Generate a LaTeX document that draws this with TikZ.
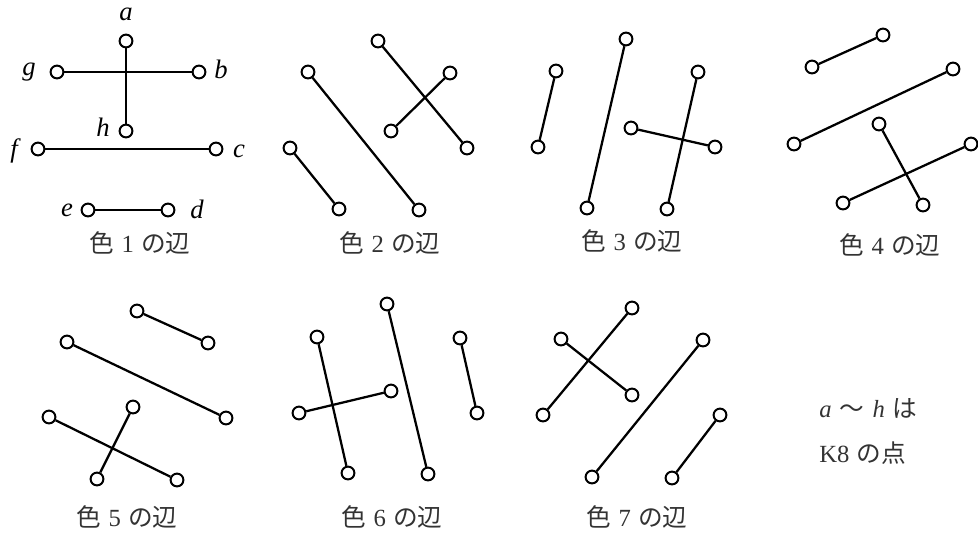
\documentclass[tikz,border=0pt]{standalone}
\usepackage{fontspec}
\newfontfamily\cjk{Noto Sans CJK JP}
\newfontfamily\lserif{Liberation Serif}
\begin{document}
\begin{tikzpicture}[x=0.75pt,y=-0.75pt,
  v/.style={circle,draw,fill=white,inner sep=0pt,minimum size=9.6pt,line width=1.5pt},
  edg/.style={line width=1.7pt},
  lab/.style={font=\fontsize{20}{23}\lserif\itshape,inner sep=0pt},
  captxt/.style={font=\fontsize{18.5}{22}\selectfont,text=black!80,inner sep=0pt}]
\useasboundingbox (0,0) rectangle (978,533);
% ---- panel 1
\node[v] (a) at (126,41) {};
\node[v] (g) at (57,72) {};
\node[v] (b) at (199,72) {};
\node[v] (h) at (126,131) {};
\node[v] (f) at (38,149) {};
\node[v] (c) at (216,149) {};
\node[v] (ee) at (88,210) {};
\node[v] (d) at (168,210) {};
\draw[edg] (a) -- (h);
\draw[edg] (g) -- (b);
\draw[edg] (f) -- (c);
\draw[edg] (ee) -- (d);
\node[lab] (la) at (126,14) {a};
\node[lab] (lg) at (29,72) {g};
\node[lab] (lb) at (221,69) {b};
\node[lab] (lh) at (103,127) {h};
\node[lab] (lf) at (14,151) {f};
\node[lab] (lc) at (239,151) {c};
\node[lab] (le) at (67,210) {e};
\node[lab] (ld) at (197,209) {d};
\node[captxt] (c1) at (140,243) {{\cjk 色}\ {\lserif 1}\ {\cjk の辺}};
% ---- panel 2
\node[v] (p2a) at (378,41) {};
\node[v] (p2b) at (308,72) {};
\node[v] (p2c) at (450,73) {};
\node[v] (p2d) at (391,131) {};
\node[v] (p2e) at (290,148) {};
\node[v] (p2f) at (467,148) {};
\node[v] (p2g) at (339,209) {};
\node[v] (p2h) at (419,210) {};
\draw[edg] (p2a) -- (p2f);
\draw[edg] (p2b) -- (p2h);
\draw[edg] (p2c) -- (p2d);
\draw[edg] (p2e) -- (p2g);
\node[captxt] (c2) at (390,243) {{\cjk 色}\ {\lserif 2}\ {\cjk の辺}};
% ---- panel 3
\node[v] (p3a) at (626,39) {};
\node[v] (p3b) at (556,71) {};
\node[v] (p3c) at (698,72) {};
\node[v] (p3d) at (631,128) {};
\node[v] (p3e) at (538,147) {};
\node[v] (p3f) at (715,147) {};
\node[v] (p3g) at (587,208) {};
\node[v] (p3h) at (667,209) {};
\draw[edg] (p3b) -- (p3e);
\draw[edg] (p3a) -- (p3g);
\draw[edg] (p3c) -- (p3h);
\draw[edg] (p3d) -- (p3f);
\node[captxt] (c3) at (632,241) {{\cjk 色}\ {\lserif 3}\ {\cjk の辺}};
% ---- panel 4
\node[v] (p4a) at (883,35) {};
\node[v] (p4b) at (812,67) {};
\node[v] (p4c) at (953,69) {};
\node[v] (p4d) at (879,124) {};
\node[v] (p4e) at (794,144) {};
\node[v] (p4f) at (971,144) {};
\node[v] (p4g) at (843,203) {};
\node[v] (p4h) at (923,205) {};
\draw[edg] (p4a) -- (p4b);
\draw[edg] (p4c) -- (p4e);
\draw[edg] (p4d) -- (p4h);
\draw[edg] (p4f) -- (p4g);
\node[captxt] (c4) at (890,245) {{\cjk 色}\ {\lserif 4}\ {\cjk の辺}};
% ---- panel 5
\node[v] (p5a) at (137,311) {};
\node[v] (p5b) at (67,342) {};
\node[v] (p5c) at (208,343) {};
\node[v] (p5d) at (133,407) {};
\node[v] (p5e) at (49,417) {};
\node[v] (p5f) at (226,418) {};
\node[v] (p5g) at (97,479) {};
\node[v] (p5h) at (177,480) {};
\draw[edg] (p5a) -- (p5c);
\draw[edg] (p5b) -- (p5f);
\draw[edg] (p5d) -- (p5g);
\draw[edg] (p5e) -- (p5h);
\node[captxt] (c5) at (127,517) {{\cjk 色}\ {\lserif 5}\ {\cjk の辺}};
% ---- panel 6
\node[v] (p6a) at (387,304) {};
\node[v] (p6b) at (317,337) {};
\node[v] (p6c) at (460,338) {};
\node[v] (p6d) at (391,391) {};
\node[v] (p6e) at (299,413) {};
\node[v] (p6f) at (477,413) {};
\node[v] (p6g) at (348,473) {};
\node[v] (p6h) at (428,474) {};
\draw[edg] (p6a) -- (p6h);
\draw[edg] (p6b) -- (p6g);
\draw[edg] (p6c) -- (p6f);
\draw[edg] (p6e) -- (p6d);
\node[captxt] (c6) at (392,517) {{\cjk 色}\ {\lserif 6}\ {\cjk の辺}};
% ---- panel 7
\node[v] (p7a) at (632,308) {};
\node[v] (p7b) at (561,339) {};
\node[v] (p7c) at (703,340) {};
\node[v] (p7d) at (632,395) {};
\node[v] (p7e) at (543,415) {};
\node[v] (p7f) at (720,415) {};
\node[v] (p7g) at (592,477) {};
\node[v] (p7h) at (672,478) {};
\draw[edg] (p7a) -- (p7e);
\draw[edg] (p7b) -- (p7d);
\draw[edg] (p7c) -- (p7g);
\draw[edg] (p7f) -- (p7h);
\node[captxt] (c7) at (637,517) {{\cjk 色}\ {\lserif 7}\ {\cjk の辺}};
% ---- note
\node[captxt,anchor=west] (n1) at (819,408) {{\lserif\itshape a}\,\,{\cjk ～}\,\,{\lserif\itshape h}\ {\cjk は}};
\node[captxt,anchor=west] (n2) at (819,453) {{\lserif K8}\ {\cjk の点}};
\end{tikzpicture}
\end{document}
